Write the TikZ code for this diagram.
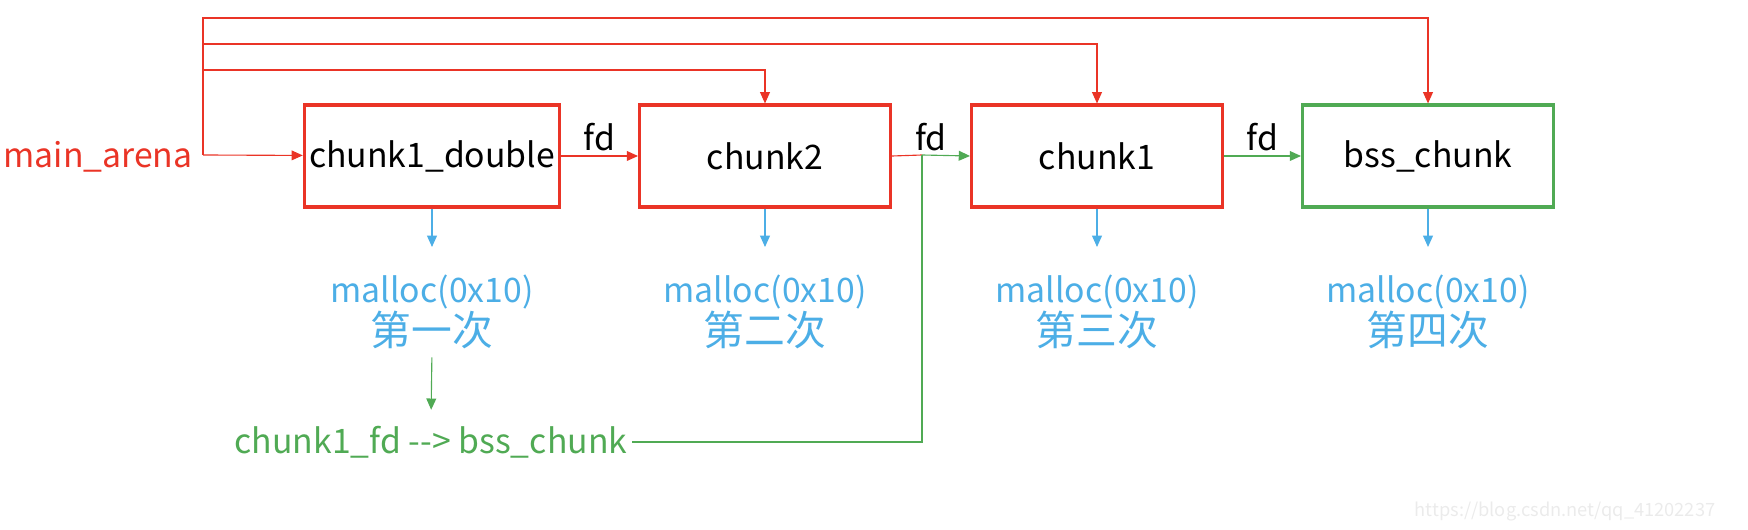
\documentclass[tikz,border=0pt]{standalone}
\usepackage{fontspec}
\setmainfont{Noto Sans CJK SC}
\usetikzlibrary{arrows.meta}
\definecolor{arenared}{RGB}{234,52,38}
\definecolor{bssgreen}{RGB}{80,170,84}
\definecolor{mallocblue}{RGB}{76,174,230}
\newcommand{\cjkbig}{\fontsize{29}{30}\selectfont}
\begin{document}
\begin{tikzpicture}[x=0.025cm, y=-0.025cm,
        every node/.style={font=\fontsize{24}{30}\selectfont},
        box/.style={draw=#1, line width=2.2pt, minimum width=6.27cm, minimum height=2.55cm},
        link/.style={draw=#1, line width=0.8pt, -{Triangle[length=8pt, width=7pt]}},
        mal/.style={text=mallocblue, align=center, inner sep=0pt}]
        
        \useasboundingbox (0,0) rectangle (1748,530);
        
        \node[text=arenared] (arena) at (98,157) {main\_arena};
        \coordinate (hub) at (203,155);
        
        \node[box=arenared] (dbl) at (432,156) {chunk1\_double};
        \node[box=arenared] (c2) at (765,156) {chunk2};
        \node[box=arenared] (c1) at (1097,156) {chunk1};
        \node[box=bssgreen] (bss) at (1428,156) {bss\_chunk};
        
        \draw[link=arenared] (hub) -- (dbl);
        \draw[link=arenared] (hub) -- (hub |- 0,70) -| (c2.north);
        \draw[link=arenared] (hub) -- (hub |- 0,44) -| (c1.north);
        \draw[link=arenared] (hub) -- (hub |- 0,18) -| (bss.north);
        
        \draw[link=arenared] (dbl) -- (c2) node[midway, above] {fd};
        \coordinate (jn) at (922,155);
        \draw[arenared, line width=0.8pt] (c2.east) -- (jn);
        \draw[link=bssgreen] (jn) -- (c1.west);
        \path (c2.east) -- (c1.west) node[midway, above] {fd};
        \draw[link=bssgreen] (c1) -- (bss) node[midway, above] {fd};
        
        \node[mal] (m1) at (432,312) {malloc(0x10)\\{\cjkbig 第一次}};
        \node[mal] (m2) at (765,312) {malloc(0x10)\\{\cjkbig 第二次}};
        \node[mal] (m3) at (1097,312) {malloc(0x10)\\{\cjkbig 第三次}};
        \node[mal] (m4) at (1428,312) {malloc(0x10)\\{\cjkbig 第四次}};
        \foreach \b/\m in {dbl/m1, c2/m2, c1/m3, bss/m4}
            \draw[link=mallocblue, shorten >=20pt] (\b.south) -- (\m.north);
        
        \node[text=bssgreen] (fdnote) at (431,442) {chunk1\_fd -{}-> bss\_chunk};
        \draw[link=bssgreen, shorten <=6pt, shorten >=8pt] (m1.south) -- (fdnote.north);
        \draw[bssgreen, line width=0.8pt] (fdnote.east) -| (jn);
        
        \node[text=black!8, font=\fontsize{13}{15}\selectfont] (mark) at (1565,512) {https://blog.csdn.net/qq\_41202237};
    \end{tikzpicture}
\end{document}
